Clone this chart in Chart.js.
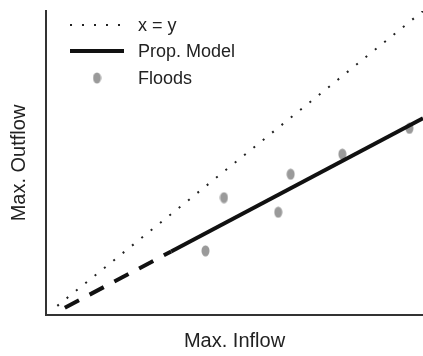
<!DOCTYPE html>
<html>
<head>
<meta charset="utf-8">
<script src="https://cdn.jsdelivr.net/npm/chart.js@4.4.0/dist/chart.umd.min.js"></script>
<style>
  html, body { margin: 0; padding: 0; background: #fff; }
  #wrap { width: 423px; height: 356px; }
</style>
</head>
<body>
<div id="wrap"><canvas id="flowChart"></canvas></div>
<script>
// Data (axes have no ticks, so 0..100 on both)
const identityX = [3, 100];
const identityY = [3, 100];

const modelX = [5, 33.2, 100];
const modelY = [2.4, 20.9, 64.7];

const floodsX = [42.3, 47.2, 61.6, 64.9, 78.6, 96.4];
const floodsY = [21.1, 38.6, 33.8, 46.3, 52.9, 61.4];

const axisMin = 0;
const axisMax = 100;

const toPoints = (xs, ys) => xs.map((x, i) => ({ x: x, y: ys[i] }));

// gray oval marker for the floods
const floodDot = document.createElement('canvas');
floodDot.width = 9;
floodDot.height = 12;
const dctx = floodDot.getContext('2d');
dctx.fillStyle = '#9a9a9a';
dctx.beginPath();
dctx.ellipse(4.5, 6, 4, 5.5, 0, 0, Math.PI * 2);
dctx.fill();

// Legend drawn inside the plot, top left
const insideLegend = {
  id: 'insideLegend',
  afterDraw(chart) {
    const ctx = chart.ctx;
    const rows = [
      { ds: chart.data.datasets[0], y: 25 },
      { ds: chart.data.datasets[1], y: 51 },
      { ds: chart.data.datasets[2], y: 78 }
    ];
    ctx.save();
    rows.forEach(r => {
      const ds = r.ds;
      if (ds.showLine === false) {
        ctx.drawImage(floodDot, 97 - 4.5, r.y - 6);
      } else {
        ctx.strokeStyle = ds.borderColor;
        ctx.lineWidth = ds.borderWidth;
        ctx.setLineDash(ds.borderDash || []);
        ctx.beginPath();
        ctx.moveTo(70, r.y);
        ctx.lineTo(124, r.y);
        ctx.stroke();
      }
      ctx.setLineDash([]);
      ctx.fillStyle = '#222';
      ctx.font = '18px "Liberation Sans", Arial, sans-serif';
      ctx.textBaseline = 'middle';
      ctx.fillText(ds.label, 138, r.y + 1);
    });
    ctx.restore();
  }
};

const ctx = document.getElementById('flowChart').getContext('2d');

const flowChart = new Chart(ctx, {
  type: 'scatter',
  data: {
    datasets: [
      {
        label: 'x = y',
        type: 'line',
        data: toPoints(identityX, identityY),
        borderColor: '#222',
        borderWidth: 2,
        borderDash: [2, 10],
        pointRadius: 0,
        fill: false
      },
      {
        label: 'Prop. Model',
        type: 'line',
        data: toPoints(modelX, modelY),
        borderColor: '#111',
        borderWidth: 4,
        pointRadius: 0,
        fill: false,
        segment: {
          // first stretch is extrapolated, drawn dashed
          borderDash: (c) => c.p0DataIndex === 0 ? [16, 12] : undefined
        }
      },
      {
        label: 'Floods',
        data: toPoints(floodsX, floodsY),
        showLine: false,
        pointStyle: floodDot,
        pointRadius: 5
      }
    ]
  },
  options: {
    responsive: true,
    maintainAspectRatio: false,
    animation: false,
    layout: {
      autoPadding: false,
      padding: { left: 7, right: 0, top: 11, bottom: 3 }
    },
    plugins: {
      legend: { display: false },
      tooltip: { enabled: false }
    },
    scales: {
      x: {
        type: 'linear',
        min: axisMin,
        max: axisMax,
        grid: { display: false, drawTicks: false },
        border: { color: '#333', width: 2 },
        ticks: { display: false },
        title: {
          display: true,
          text: 'Max. Inflow',
          color: '#222',
          font: { family: '"Liberation Sans", Arial, sans-serif', size: 20 },
          padding: { top: 14, bottom: 0 }
        }
      },
      y: {
        type: 'linear',
        min: axisMin,
        max: axisMax,
        grid: { display: false, drawTicks: false },
        border: { color: '#333', width: 2 },
        ticks: { display: false },
        title: {
          display: true,
          text: 'Max. Outflow',
          color: '#222',
          font: { family: '"Liberation Sans", Arial, sans-serif', size: 20 },
          padding: { top: 0, bottom: 15 }
        }
      }
    }
  },
  plugins: [insideLegend]
});
</script>
</body>
</html>
